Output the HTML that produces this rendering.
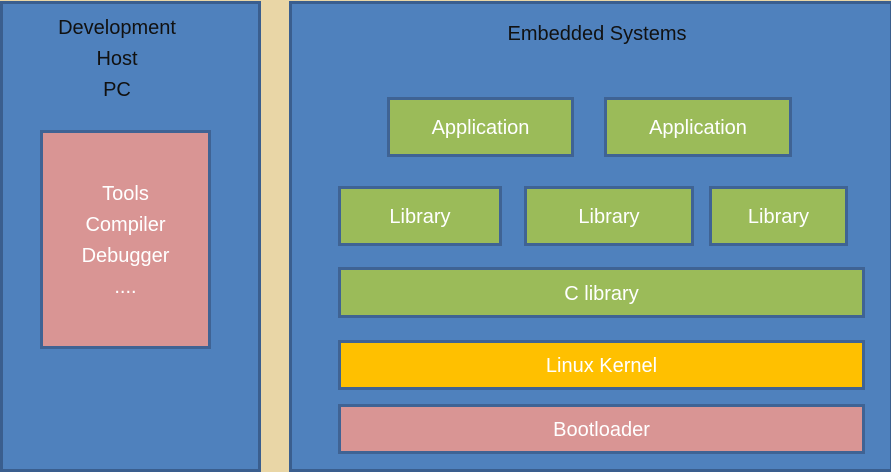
<!DOCTYPE html>
<html><head><style>
body{margin:0;width:891px;height:470px;background:#e9d6a6;position:relative;overflow:hidden;font-family:"Liberation Sans",sans-serif}
.b{position:absolute;box-sizing:border-box;border:3px solid #3f6394;display:flex;align-items:center;justify-content:center;color:#fff;font-size:20px;text-align:center;padding-top:3px}
.p{background:#4f81bd;border-color:#3a5e8e}
.g{background:#9bbb59}
.r{background:#d99594}
.y{background:#ffc000}
.t{position:absolute;color:#111;font-size:20px;text-align:center;line-height:31px}
</style></head><body>
<div class="b p" style="left:0;top:1px;width:261px;height:471px"></div>
<div class="b p" style="left:289px;top:1px;width:604px;height:471px"></div>
<div class="t" style="left:0;top:13px;width:234px">Development<br>Host<br>PC</div>
<div class="t" style="left:290px;top:19px;width:614px">Embedded Systems</div>
<div class="b r" style="left:40px;top:130px;width:171px;height:219px;line-height:31px;align-items:flex-start;padding-top:46px">Tools<br>Compiler<br>Debugger<br>....</div>
<div class="b g" style="left:387px;top:97px;width:187px;height:60px">Application</div>
<div class="b g" style="left:604px;top:97px;width:188px;height:60px">Application</div>
<div class="b g" style="left:338px;top:186px;width:164px;height:60px">Library</div>
<div class="b g" style="left:524px;top:186px;width:170px;height:60px">Library</div>
<div class="b g" style="left:709px;top:186px;width:139px;height:60px">Library</div>
<div class="b g" style="left:338px;top:267px;width:527px;height:51px">C library</div>
<div class="b y" style="left:338px;top:340px;width:527px;height:50px">Linux Kernel</div>
<div class="b r" style="left:338px;top:404px;width:527px;height:50px">Bootloader</div>
</body></html>
